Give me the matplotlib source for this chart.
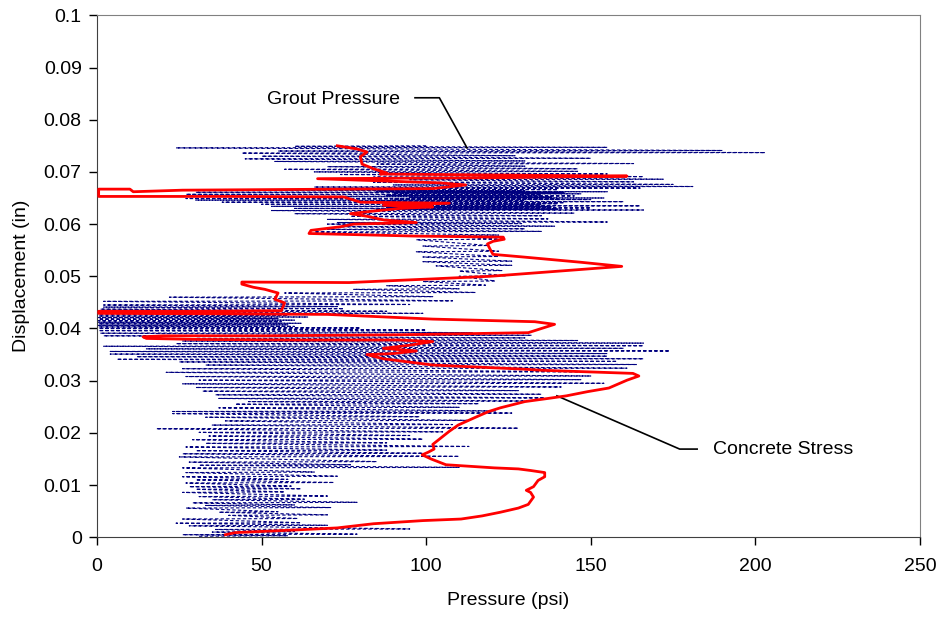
import matplotlib
matplotlib.use('Agg')
import matplotlib.pyplot as plt
import numpy as np

plt.rcParams['font.family'] = ['Liberation Sans', 'DejaVu Sans']

# Concrete stress trace (psi, in)
concrete_psi = [39, 42, 60, 73, 84, 99, 110.6, 117, 122.5, 128, 131, 132.6, 131.7, 130.4,
                132.6, 134, 136, 136, 131.7, 128, 120.7, 106, 101.5, 98.8, 100.6, 102.4,
                102, 104, 107, 109.7, 115, 119, 122.5, 130, 137, 142.6, 149, 155.5, 161,
                164.6, 162.8, 153.6, 135, 130, 102, 87, 82, 90, 97, 87, 95, 102, 92, 61,
                31, 15, 14, 20, 51, 92, 131, 139, 133, 102, 70, 41, 0.5, 0.5, 31, 56,
                57, 54, 55, 51, 47.5, 44, 44, 76.6, 119.4, 159.4, 146.8, 129.4, 120.3,
                119.4, 118.6, 120.3, 123.7, 123.4, 97, 64.4, 65, 74, 78, 97, 87, 82, 77, 84,
                92, 102, 87, 107, 80, 77, 75, 41, 0.5, 0.5, 10, 11, 26, 75, 102, 112,
                104, 67, 123, 161, 123, 86, 88, 84, 80.5, 80, 82, 79, 73]
concrete_disp = [0.0005, 0.0009, 0.0014, 0.0018, 0.0026, 0.0032, 0.0035, 0.0041, 0.0048,
                 0.0056, 0.0063, 0.0077, 0.0086, 0.0090, 0.0097, 0.0109, 0.0116, 0.0124,
                 0.0128, 0.0131, 0.0133, 0.0139, 0.0150, 0.0158, 0.0163, 0.0169, 0.0178,
                 0.0188, 0.0203, 0.0215, 0.0230, 0.0241, 0.0248, 0.0260, 0.0266, 0.0271,
                 0.0279, 0.0286, 0.0301, 0.0309, 0.0314, 0.0316, 0.0320, 0.0322, 0.0330,
                 0.0342, 0.0350, 0.0352, 0.0357, 0.0362, 0.0368, 0.0375, 0.0378, 0.0378,
                 0.0379, 0.0381, 0.0384, 0.0386, 0.0386, 0.0388, 0.0392, 0.0408, 0.0413,
                 0.0418, 0.0427, 0.0428, 0.0429, 0.0433, 0.0433, 0.0434, 0.0449, 0.0456,
                 0.0468, 0.0475, 0.0479, 0.0485, 0.0489, 0.0488, 0.0500, 0.0519, 0.0527,
                 0.0537, 0.0542, 0.0552, 0.0562, 0.0567, 0.0571, 0.0575, 0.0577, 0.0582,
                 0.0588, 0.0595, 0.0600, 0.0603, 0.0608, 0.0615, 0.0620, 0.0625, 0.0630,
                 0.0633, 0.0636, 0.0640, 0.0642, 0.0648, 0.0652, 0.0653, 0.0653, 0.0667,
                 0.0667, 0.0662, 0.0665, 0.0667, 0.0668, 0.0675, 0.0679, 0.0687, 0.0689,
                 0.0692, 0.0694, 0.0696, 0.0698, 0.0706, 0.0715, 0.0729, 0.0738, 0.0744,
                 0.0750]

# Grout pressure turning points (psi, in), oscillating trace
grout_psi = [31, 58, 26, 79, 35, 60, 36, 95, 28, 70, 24, 62, 26, 61, 40, 70, 37, 55,
             27, 71, 33, 60, 29, 79, 35, 63, 31, 70, 26, 57, 30, 62, 28, 59, 27, 72,
             30, 58, 26, 73, 27, 66, 26, 110, 31, 77, 28, 85, 25, 110, 26, 99, 30, 88,
             27, 113, 33, 88, 29, 99, 34, 95, 31, 105, 18, 128, 35, 108, 39, 113, 33, 98,
             23, 126, 23, 121, 37, 110, 42, 116, 46, 130, 37, 136, 36, 135, 32, 128,
             30, 141, 26, 154, 31, 147, 27, 150, 21, 154, 26, 161, 33, 164, 25, 158,
             6, 166, 12, 155, 4, 155, 4, 174, 15, 160, 2, 166, 24, 166, 26, 146,
             30, 130, 2, 132, 1, 114, 0.5, 100, 0.5, 80, 0.5, 60, 0.5, 58, 0.5, 62,
             0.5, 56, 0.5, 60, 0.5, 55, 0.5, 64, 0.5, 58, 0.5, 99, 0.5, 88, 1, 75,
             2, 73, 2, 95, 2, 108, 22, 102, 57, 115, 78, 110, 88, 118, 99, 121,
             110, 124, 110, 123, 103, 126, 99, 126, 99, 122, 97, 122, 99, 119, 97, 122,
             102, 122, 66, 135, 70, 130, 73, 139, 70, 129, 73, 155, 70, 137, 77, 135,
             60, 145, 53, 166, 85, 140, 60, 150, 88, 138, 53, 165, 90, 135, 50, 140,
             92, 142, 38, 160, 85, 130, 30, 150, 90, 140, 27, 154, 95, 138, 40, 145,
             88, 135, 27, 147, 90, 142, 30, 155, 85, 130, 29, 140, 66, 165, 66, 181,
             90, 175, 84, 163, 95, 172, 84, 166, 74, 155, 66, 146, 57, 146, 70, 130,
             85, 163, 54, 130, 45, 150, 50, 127, 44, 203, 55, 190, 24, 155, 60, 100]
grout_disp = [0.0002, 0.0003, 0.0005, 0.0006, 0.0010, 0.0011, 0.0015, 0.0016,
              0.0022, 0.0023, 0.0027, 0.0028, 0.0035, 0.0036, 0.0042, 0.0043,
              0.0048, 0.0049, 0.0056, 0.0057, 0.0061, 0.0062, 0.0066, 0.0067,
              0.0072, 0.0073, 0.0078, 0.0079, 0.0086, 0.0087, 0.0092, 0.0093,
              0.0097, 0.0098, 0.0104, 0.0105, 0.0110, 0.0111, 0.0116, 0.0117,
              0.0124, 0.0125, 0.0133, 0.0134, 0.0138, 0.0139, 0.0144, 0.0145,
              0.0154, 0.0155, 0.0160, 0.0161, 0.0166, 0.0167, 0.0173, 0.0174,
              0.0180, 0.0181, 0.0187, 0.0188, 0.0194, 0.0195, 0.0201, 0.0202,
              0.0208, 0.0209, 0.0215, 0.0216, 0.0223, 0.0224, 0.0230, 0.0231,
              0.0237, 0.0238, 0.0241, 0.0242, 0.0248, 0.0249, 0.0255, 0.0256,
              0.0260, 0.0261, 0.0266, 0.0267, 0.0273, 0.0274, 0.0280, 0.0281,
              0.0287, 0.0288, 0.0294, 0.0295, 0.0301, 0.0302, 0.0308, 0.0309,
              0.0316, 0.0317, 0.0323, 0.0324, 0.0330, 0.0331, 0.0336, 0.0337,
              0.0341, 0.0342, 0.0346, 0.0347, 0.0351, 0.0352, 0.0356, 0.0357,
              0.0361, 0.0362, 0.0366, 0.0367, 0.0371, 0.0372, 0.0376, 0.0377,
              0.0381, 0.0382, 0.0386, 0.0387, 0.0391, 0.0392, 0.0396, 0.0397,
              0.0400, 0.0401, 0.0403, 0.0404, 0.0406, 0.0407, 0.0409, 0.0410,
              0.0412, 0.0413, 0.0415, 0.0416, 0.0418, 0.0419, 0.0421, 0.0422,
              0.0424, 0.0425, 0.0428, 0.0429, 0.0432, 0.0433, 0.0437, 0.0438,
              0.0441, 0.0442, 0.0445, 0.0446, 0.0452, 0.0453, 0.0460, 0.0461,
              0.0468, 0.0469, 0.0475, 0.0476, 0.0482, 0.0483, 0.0490, 0.0491,
              0.0500, 0.0501, 0.0510, 0.0511, 0.0520, 0.0521, 0.0528, 0.0529,
              0.0537, 0.0538, 0.0547, 0.0548, 0.0558, 0.0559, 0.0570, 0.0571,
              0.0578, 0.0579, 0.0585, 0.0586, 0.0590, 0.0591, 0.0595, 0.0596,
              0.0600, 0.0601, 0.0603, 0.0604, 0.0609, 0.0610, 0.0615, 0.0616,
              0.0620, 0.0621, 0.0626, 0.0627, 0.0628, 0.0629, 0.0630, 0.0631,
              0.0632, 0.0633, 0.0634, 0.0635, 0.0636, 0.0637, 0.0638, 0.0639,
              0.0640, 0.0641, 0.0642, 0.0643, 0.0644, 0.0645, 0.0646, 0.0647,
              0.0648, 0.0649, 0.0649, 0.0650, 0.0651, 0.0652, 0.0653, 0.0654,
              0.0655, 0.0656, 0.0657, 0.0658, 0.0659, 0.0660, 0.0661, 0.0662,
              0.0663, 0.0664, 0.0665, 0.0666, 0.0668, 0.0669, 0.0671, 0.0672,
              0.0675, 0.0676, 0.0680, 0.0681, 0.0685, 0.0686, 0.0690, 0.0691,
              0.0695, 0.0696, 0.0700, 0.0701, 0.0705, 0.0706, 0.0710, 0.0711,
              0.0715, 0.0716, 0.0720, 0.0721, 0.0725, 0.0726, 0.0730, 0.0731,
              0.0736, 0.0737, 0.0740, 0.0741, 0.0746, 0.0747, 0.0749, 0.0750]

x_ticks = [0, 50, 100, 150, 200, 250]
y_ticks = [0, 0.01, 0.02, 0.03, 0.04, 0.05, 0.06, 0.07, 0.08, 0.09, 0.1]
y_tick_labels = ['0', '0.01', '0.02', '0.03', '0.04', '0.05', '0.06', '0.07', '0.08', '0.09', '0.1']

fig = plt.figure(figsize=(9.44, 6.17), dpi=100)
# plot area: x 97..920 px, y 15..537 px
ax = fig.add_axes([97 / 944, 1 - 537.3 / 617, (920 - 97) / 944, (537.3 - 15.3) / 617])

ax.plot(grout_psi, grout_disp, color='#000080', linewidth=0.8,
        linestyle=(0, (3, 2)), zorder=2)
ax.plot(concrete_psi, concrete_disp, color='#ff0000', linewidth=2, zorder=3)

ax.set_xlim(0, 250)
ax.set_ylim(0, 0.1)
ax.set_xticks(x_ticks)
ax.set_yticks(y_ticks)
ax.set_yticklabels(y_tick_labels)
ax.tick_params(direction='out', length=6, labelsize=14, width=1)
ax.tick_params(axis='x', pad=9)
ax.tick_params(axis='y', pad=5)
ax.set_xlabel('Pressure (psi)', fontsize=14, labelpad=12)
ax.set_ylabel('Displacement (in)', fontsize=14, labelpad=10)

for side in ['top', 'right']:
    ax.spines[side].set_color('#808080')
for side in ['left', 'bottom']:
    ax.spines[side].set_color('#404040')

# Callout labels
ax.text(92, 0.0838, 'Grout Pressure', fontsize=14, ha='right', va='center')
ax.plot([96.6, 104, 112.4], [0.0842, 0.0842, 0.0746], color='black', linewidth=1.2)
ax.text(187, 0.0169, 'Concrete Stress', fontsize=14, ha='left', va='center')
ax.plot([182.3, 177, 139.7], [0.0169, 0.0169, 0.0271], color='black', linewidth=1.2)

fig.savefig('out.png', dpi=100)
